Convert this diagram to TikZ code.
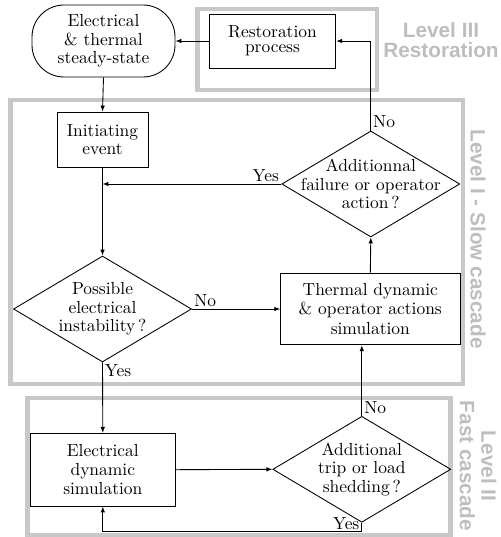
\documentclass[tikz,border=0pt]{standalone}
\usepackage{fontspec}
\setsansfont{Liberation Sans}
\usetikzlibrary{shapes.geometric,arrows.meta}
\newcommand{\pxu}{0.5734pt}
\definecolor{boxgray}{RGB}{200,200,200}
\definecolor{labgray}{RGB}{190,190,190}
\tikzset{
  txt/.style={font=\fontsize{10pt}{10.5pt}\selectfont, align=center, text=black},
  blk/.style={draw=black, line width=0.5pt, inner sep=0pt},
  boxnode/.style={blk, rectangle},
  dia/.style={blk, diamond, minimum width=178*\pxu, minimum height=106*\pxu},
  arr/.style={draw=black, line width=0.5pt, -{Latex[length=3.4pt,width=2.6pt]}},
  lvl/.style={draw=boxgray, line width=2.6pt},
  lvllab/.style={font=\sffamily\bfseries\fontsize{11.9pt}{11.6pt}\selectfont, text=labgray, align=center},
  yn/.style={font=\fontsize{10pt}{10.5pt}\selectfont, inner sep=1.2pt, text=black}
}
\begin{document}
\begin{tikzpicture}[x=\pxu, y=-\pxu]
\useasboundingbox (0,0) rectangle (500,537);
% level boxes
\draw[lvl] (197.5,9) rectangle (377,90);
\draw[lvl] (10.5,100) rectangle (463,384);
\draw[lvl] (27.5,398) rectangle (450.5,535);
\node[lvllab] (lab3) at (441,40) {Level III\\Restoration};
\node[lvllab, rotate=-90] (lab1) at (478,239) {Level I - Slow cascade};
\node[lvllab, rotate=-90, font=\sffamily\bfseries\fontsize{11.9pt}{12.4pt}\selectfont] (lab2) at (478,466) {Level II\\Fast cascade};
% nodes
\node[boxnode, txt, rounded corners=32*\pxu, minimum width=143*\pxu, minimum height=72*\pxu] (start) at (103.5,41) {Electrical\\\& thermal\\steady-state};
\node[boxnode, txt, font=\fontsize{10pt}{8.8pt}\selectfont, minimum width=126.7*\pxu, minimum height=54*\pxu] (restore) at (272.5,41) {Restoration\\process};
\node[boxnode, txt, minimum width=91*\pxu, minimum height=55*\pxu] (init) at (102.5,139.5) {Initiating\\event};
\node[dia] (poss) at (102.5,309) {};
\node[txt] (possT) at (poss) {Possible\\electrical\\instability\,?};
\node[boxnode, txt, font=\fontsize{10pt}{11.4pt}\selectfont, minimum width=179.3*\pxu, minimum height=71.7*\pxu] (therm) at (370.3,309) {Thermal dynamic\\\& operator actions\\simulation};
\node[dia] (addf) at (370.8,184) {};
\node[txt] (addfT) at (addf) {Additionnal\\failure or operator\\action\,?};
\node[boxnode, txt, font=\fontsize{10pt}{11pt}\selectfont, minimum width=144.3*\pxu, minimum height=72.7*\pxu] (elec) at (102.8,469.7) {Electrical\\dynamic\\simulation};
\node[dia] (trip) at (361.8,469.3) {};
\node[txt] (tripT) at (trip) {Additional\\trip or load\\shedding\,?};
% connectors
\draw[arr] (restore.west) -- (start.east);
\draw[arr] (start.south) -- (init.north);
\draw[arr] (init.south) -- (poss.north);
\draw[arr] (addf.west) -- (addf.west -| init.south);
\node[yn, anchor=south east] (yes1) at (addf.west) {Yes};
\draw[arr] (poss.east) -- (poss.east -| therm.west);
\node[yn, anchor=south west] (no1) at (poss.east) {No};
\draw[arr] (poss.south) -- (elec.north);
\node[yn, anchor=north west] (yes2) at (poss.south) {Yes};
\draw[arr] (elec.east) -- (trip.west);
\draw[arr] (trip.north) -- (trip.north |- therm.south);
\node[yn, anchor=south west] (no2) at (trip.north) {No};
\draw[arr] (therm.north) -- (addf.south);
\draw[arr] (addf.north) -- (addf.north |- restore.east) -- (restore.east);
\node[yn, anchor=south west] (no3) at (addf.north) {No};
\coordinate (ybase) at (0,531.7);
\coordinate (yc) at (trip.south |- ybase);
\draw[arr] (trip.south) -- (yc) -| (elec.south);
\node[yn, anchor=south east] (yes3) at (yc) {Yes};
\end{tikzpicture}
\end{document}
